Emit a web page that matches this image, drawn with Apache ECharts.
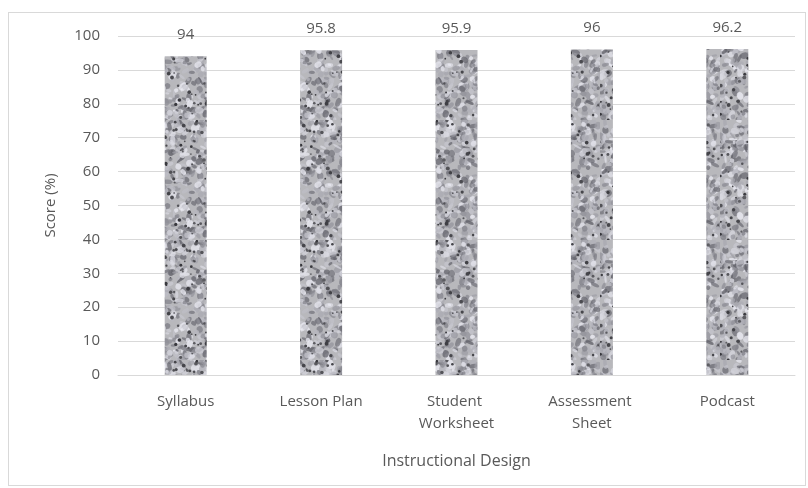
<!DOCTYPE html>
<html>
<head>
<meta charset="utf-8">
<script src="https://cdn.jsdelivr.net/npm/echarts@6/dist/echarts.min.js"></script>
<style>
  html, body { margin: 0; padding: 0; background: #fff; }
  #frame { position: absolute; left: 8px; top: 12px; width: 798px; height: 474px; border: 1px solid #d9d9d9; box-sizing: border-box; }
  #chart { position: absolute; left: 0; top: 0; width: 808px; height: 488px; }
</style>
</head>
<body>
<div id="frame"></div>
<div id="chart"></div>
<script>
// 类别与数值
const categories = ['Syllabus', 'Lesson Plan', 'Student Worksheet', 'Assessment Sheet', 'Podcast'];
const scores = [94, 95.8, 95.9, 96, 96.2];

const textColor = '#595959';
const fontFamily = '"Open Sans", "Liberation Sans", sans-serif';

// 花岗岩纹理（固定种子，保证每次一样）
function makeGraniteTexture() {
    const size = 120;
    const raw = document.createElement('canvas');
    raw.width = size;
    raw.height = size;
    const ctx = raw.getContext('2d');
    let seed = 12345;
    const rnd = () => {
        seed = (seed * 1103515245 + 12345) % 2147483648;
        return seed / 2147483648;
    };
    ctx.fillStyle = '#b8b8bc';
    ctx.fillRect(0, 0, size, size);
    for (let i = 0; i < 700; i++) {
        const g = Math.floor(95 + rnd() * 145);
        ctx.fillStyle = `rgba(${g},${g},${g + 8},0.75)`;
        const x = rnd() * size;
        const y = rnd() * size;
        const rx = 1.5 + rnd() * 3.5;
        const ry = 1 + rnd() * 2.5;
        ctx.beginPath();
        ctx.ellipse(x, y, rx, ry, rnd() * Math.PI, 0, Math.PI * 2);
        ctx.fill();
    }
    for (let i = 0; i < 120; i++) {
        const g = Math.floor(55 + rnd() * 40);
        ctx.fillStyle = `rgb(${g},${g},${g + 5})`;
        ctx.beginPath();
        ctx.arc(rnd() * size, rnd() * size, 0.8 + rnd() * 1.2, 0, Math.PI * 2);
        ctx.fill();
    }
    const c = document.createElement('canvas');
    c.width = size;
    c.height = size;
    const ctx2 = c.getContext('2d');
    ctx2.filter = 'blur(0.7px)';
    ctx2.drawImage(raw, 0, 0);
    return c;
}

const chart = echarts.init(document.getElementById('chart'));

chart.setOption({
    backgroundColor: 'transparent',
    animation: false,
    grid: {
        left: 118,
        right: 13,
        top: 36,
        bottom: 113
    },
    xAxis: {
        type: 'category',
        data: categories,
        name: 'Instructional Design',
        nameLocation: 'middle',
        nameGap: 78,
        nameTextStyle: { color: textColor, fontSize: 16, fontFamily: fontFamily },
        axisLine: { lineStyle: { color: '#d9d9d9' } },
        axisTick: { show: false },
        axisLabel: {
            interval: 0,
            color: textColor,
            fontSize: 15,
            fontFamily: fontFamily,
            margin: 16,
            width: 110,
            overflow: 'break',
            lineHeight: 22
        }
    },
    yAxis: {
        type: 'value',
        min: 0,
        max: 100,
        interval: 10,
        name: 'Score (%)',
        nameLocation: 'middle',
        nameGap: 60,
        nameTextStyle: { color: textColor, fontSize: 15, fontFamily: fontFamily },
        axisLine: { show: false },
        axisTick: { show: false },
        axisLabel: { color: textColor, fontSize: 15, fontFamily: fontFamily, margin: 18 },
        splitLine: { lineStyle: { color: '#d9d9d9' } }
    },
    series: [
        {
            type: 'bar',
            data: scores,
            barWidth: 42,
            itemStyle: {
                color: { image: makeGraniteTexture(), repeat: 'repeat' }
            },
            label: {
                show: true,
                position: 'top',
                distance: 14,
                color: textColor,
                fontSize: 15,
                fontFamily: fontFamily
            }
        }
    ]
});
</script>
</body>
</html>
